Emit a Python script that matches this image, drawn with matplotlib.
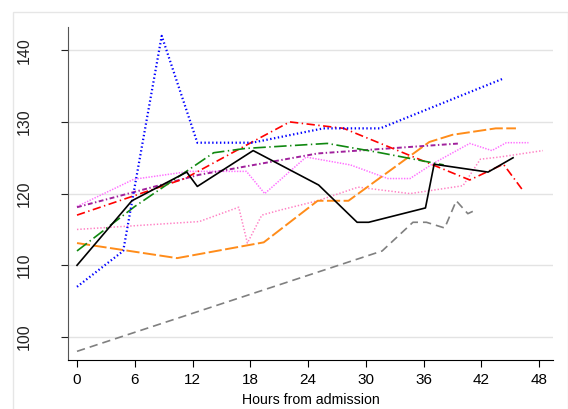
import matplotlib
matplotlib.use("Agg")
import matplotlib.pyplot as plt
from matplotlib.patches import Rectangle

plt.rcParams['font.family'] = ['Liberation Sans', 'DejaVu Sans']
plt.rcParams['lines.scale_dashes'] = False

# hours from admission / value for each patient trace
black_h = [0, 5.7, 11.4, 12.5, 18.3, 25.1, 29.1, 30.3, 36.2, 37.1, 42.7, 45.3]
black_v = [110, 119, 123, 121, 126, 121.2, 116, 116, 118, 124.1, 123, 125]

blue_h = [0, 4.8, 8.8, 12.5, 18.2, 25.6, 31.5, 44.2]
blue_v = [107, 112, 142, 127.1, 127.1, 129.1, 129.1, 136]

green_h = [0, 6, 14.2, 17.5, 26, 31.5, 38.1]
green_v = [112, 118.2, 125.7, 126.3, 127, 125.7, 124]

red_h = [0, 11.2, 18.2, 22.1, 27.7, 40.8, 44.3, 46.4]
red_v = [117, 122.1, 127.2, 130, 129.1, 121.9, 124.1, 120.3]

purple_h = [0, 12.6, 25, 39.8]
purple_v = [118.1, 122.6, 125.6, 127]

orange_h = [0, 10.4, 19.4, 25, 28.2, 36.6, 39, 43.5, 45.6]
orange_v = [113.1, 111, 113.2, 119, 119, 127.2, 128.2, 129.1, 129.1]

gray_h = [0, 31.7, 34.9, 36.3, 38.2, 39.4, 40.6, 41.4]
gray_v = [98, 112, 116, 116, 115.2, 119, 117.2, 117.7]

violet_h = [0, 5.9, 11.7, 17.6, 19.5, 23.8, 28.4, 32.3, 34.6, 37, 40.8, 43.1, 44.6, 46.9]
violet_v = [118.2, 122, 123.1, 123.1, 120, 125.1, 124, 122.1, 122.1, 124.2, 127, 126, 127.1, 127.1]

pink_h = [0, 12.7, 16.8, 17.7, 19.2, 21.1, 25, 29.2, 34.6, 40.1, 41.9, 43.9, 48.4]
pink_v = [115, 116.1, 118.1, 113.1, 117, 117.7, 119, 120.9, 120, 121.1, 124.8, 125.1, 126]

x_ticks = [0, 6, 12, 18, 24, 30, 36, 42, 48]
y_ticks = [100, 110, 120, 130, 140]

fig = plt.figure(figsize=(5.68, 4.09), dpi=100)
ax = fig.add_axes([68 / 568, 1 - 360 / 409, (553 - 68) / 568, (360 - 26.7) / 409])

# outer light frame
fig.patches.append(Rectangle((13 / 568, -0.1), (567.5 - 13) / 568, 1.1 - 12 / 409,
                             transform=fig.transFigure, fill=False,
                             edgecolor='#e6e6e6', lw=1.0))

ax.plot(gray_h, gray_v, color='#808080', lw=1.2, dashes=(6, 3.6))
ax.plot(pink_h, pink_v, color='#ff80c4', lw=1.1, dashes=(1, 1.4))
ax.plot(violet_h, violet_v, color='#ff70ff', lw=1.1, dashes=(1, 1))
ax.plot(orange_h, orange_v, color='#ff8c1a', lw=1.4, dashes=(9.5, 2.5))
ax.plot(purple_h, purple_v, color='#a0209c', lw=1.4, dashes=(3.5, 1.8, 1, 1.8))
ax.plot(red_h, red_v, color='#ff0000', lw=1.2, dashes=(6, 2.5, 1, 2.5))
ax.plot(green_h, green_v, color='#108810', lw=1.2, dashes=(9, 2.5, 1, 2.5))
ax.plot(blue_h, blue_v, color='#0000ff', lw=1.6, dashes=(1, 1.8))
ax.plot(black_h, black_v, color='black', lw=1.2)

ax.set_xlim(-0.935, 49.45)
ax.set_ylim(96.79, 143.28)
ax.set_xticks(x_ticks)
ax.set_yticks(y_ticks)
ax.set_yticklabels([str(v) for v in y_ticks], rotation=90, va='center')

ax.grid(axis='y', color='#e3e3e3', lw=1.0)
ax.set_axisbelow(True)
for s in ['top', 'right']:
    ax.spines[s].set_visible(False)
ax.spines['left'].set_color('#555555')
ax.spines['bottom'].set_color('black')
ax.tick_params(axis='y', length=5, pad=21, labelsize=11.5, colors='#222222')
ax.tick_params(axis='x', length=5, pad=4, labelsize=11)
ax.set_xlabel('Hours from admission', fontsize=10.2, labelpad=5)

fig.savefig('out.png', dpi=100)
